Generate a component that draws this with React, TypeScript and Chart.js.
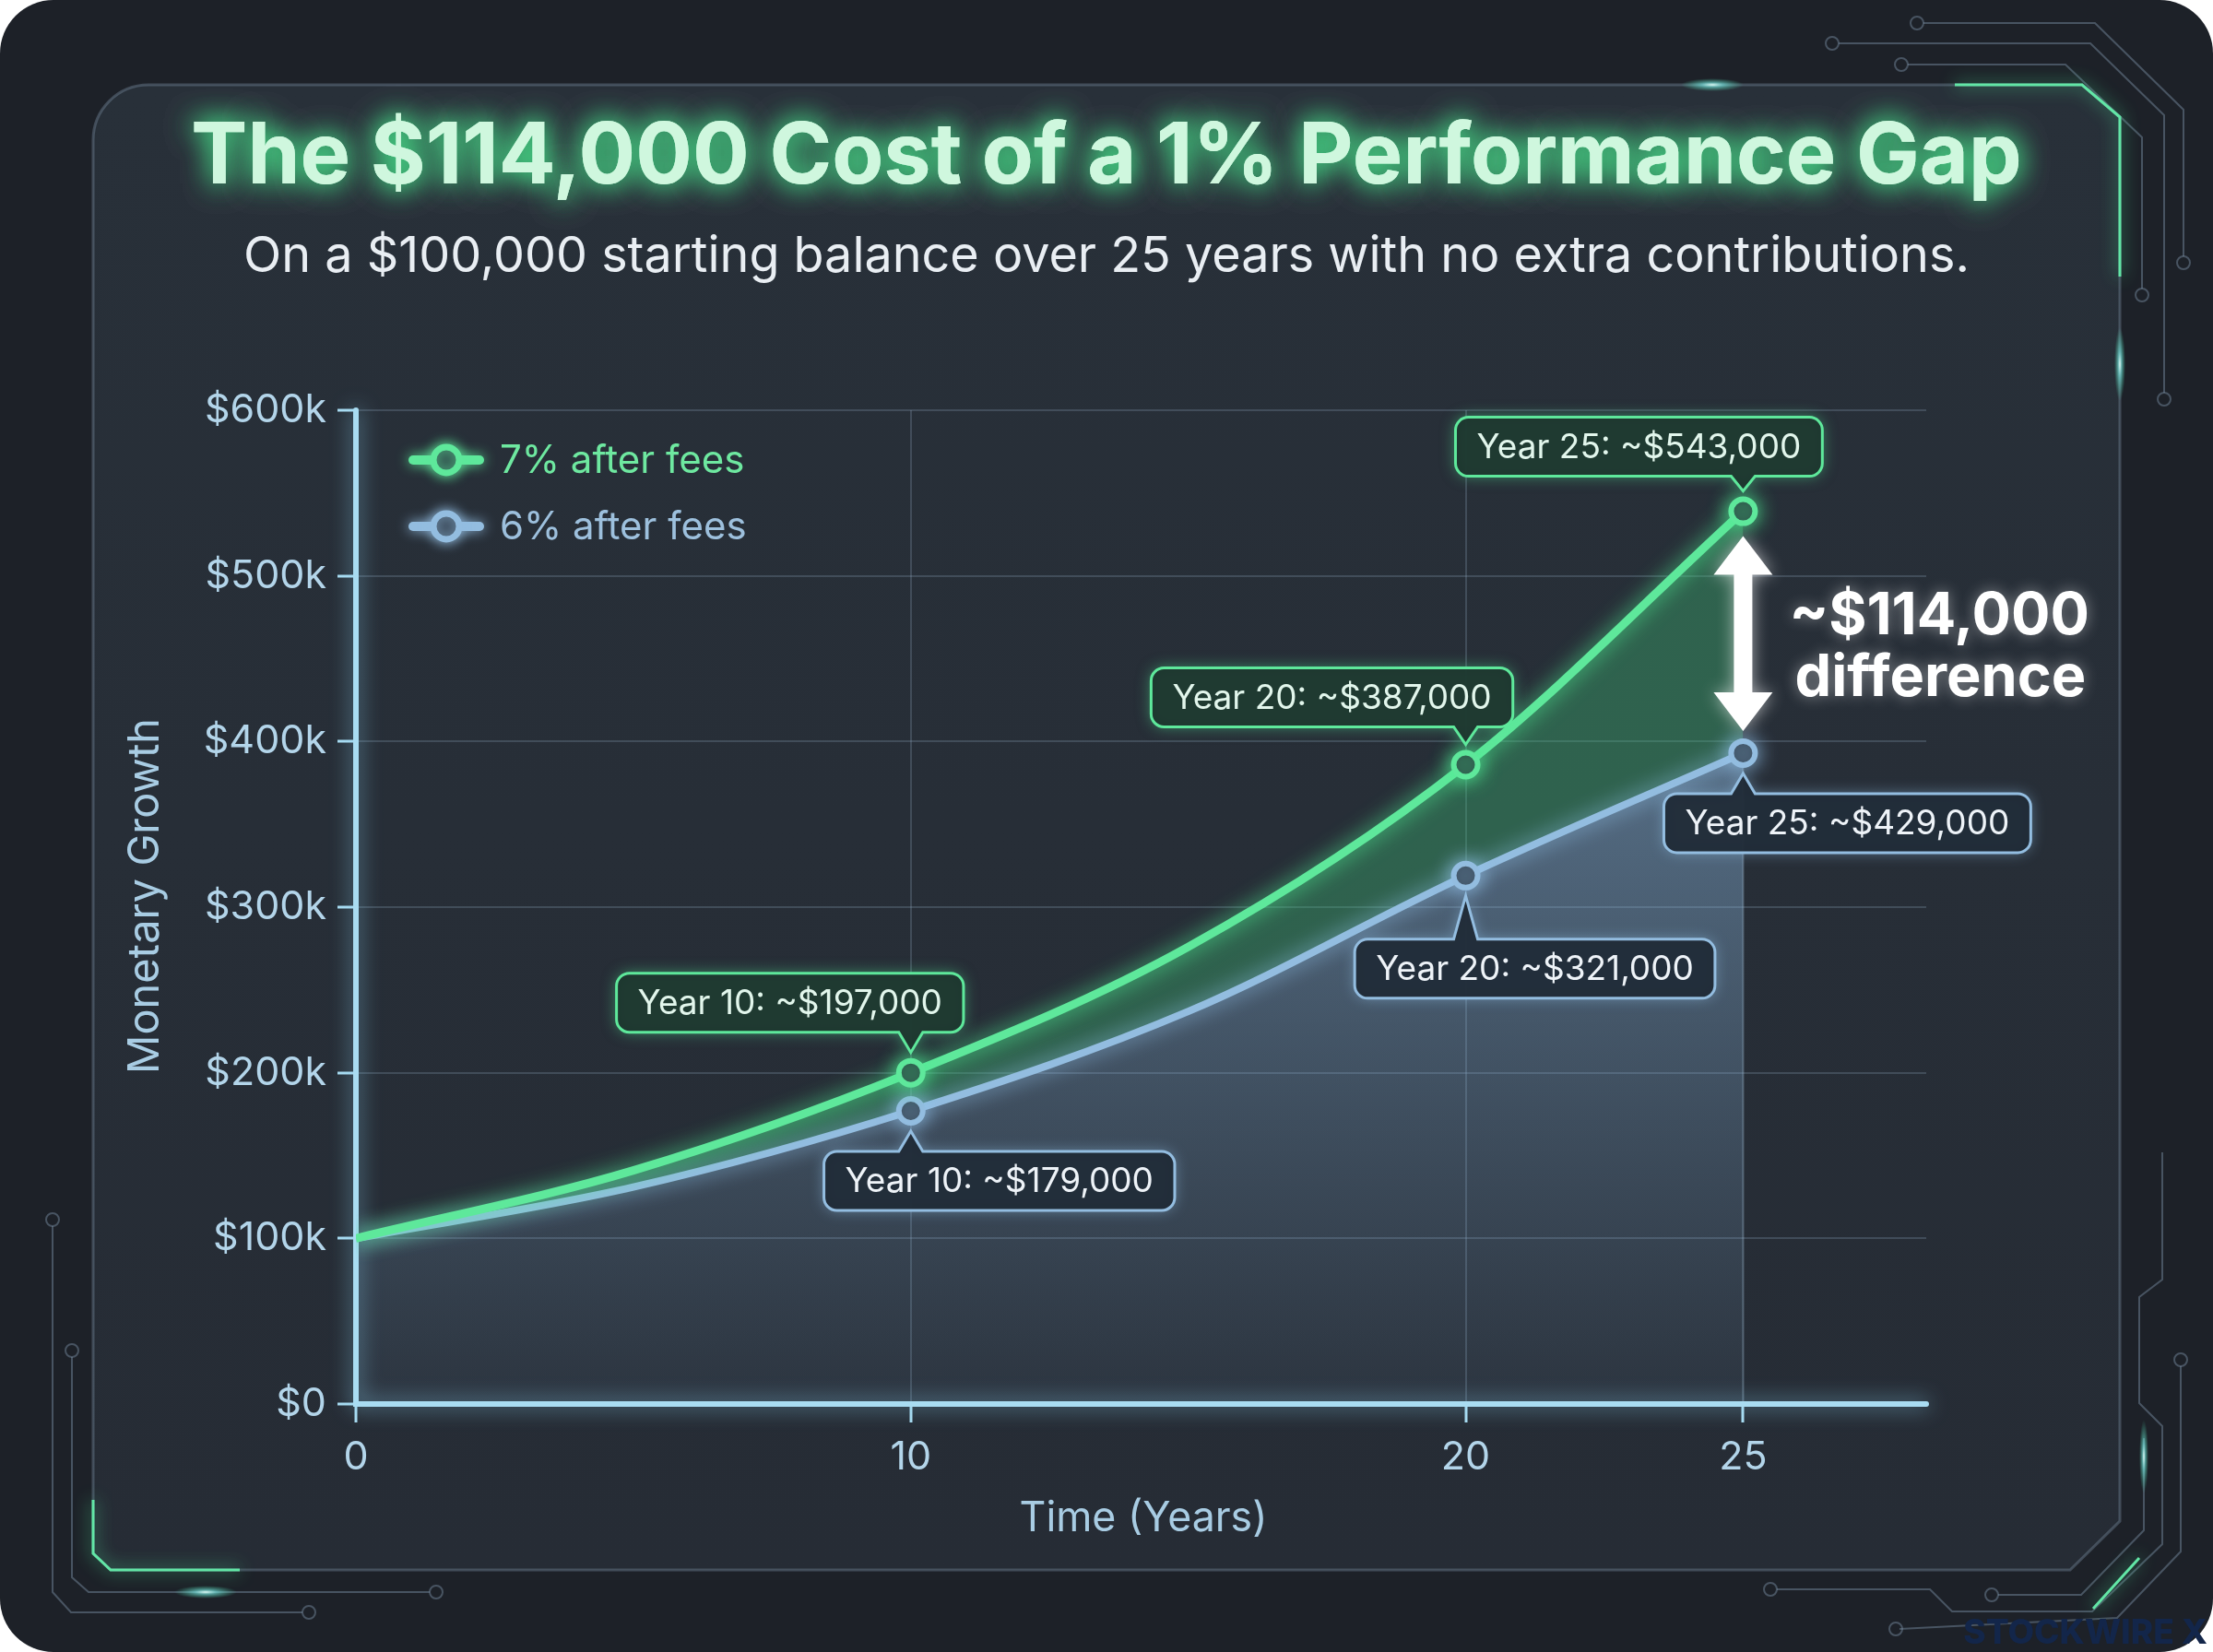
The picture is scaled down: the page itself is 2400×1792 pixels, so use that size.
import { useEffect, useRef } from "react";
import { Chart, registerables, type ChartConfiguration, type Plugin } from "chart.js";

Chart.register(...registerables);

// values in $k
const YEARS = [0, 5, 10, 15, 20, 25];
const SEVEN_PCT = [100, 141, 200, 276, 386, 539];
const SIX_PCT = [100, 131, 177, 237, 319, 393];
const SERIES_NAMES = ["7% after fees", "6% after fees"];
const SEVEN_LABELS = ["", "", "Year 10: ~$197,000", "", "Year 20: ~$387,000", "Year 25: ~$543,000"];
const SIX_LABELS = ["", "", "Year 10: ~$179,000", "", "Year 20: ~$321,000", "Year 25: ~$429,000"];
const X_TICKS = [0, 10, 20, 25];
const Y_TICKS = [0, 100, 200, 300, 400, 500, 600];
const GAP_LINES = ["~$114,000", "difference"];
const TITLE = "The $114,000 Cost of a 1% Performance Gap";
const SUBTITLE = "On a $100,000 starting balance over 25 years with no extra contributions.";
const Y_TITLE = "Monetary Growth";
const X_TITLE = "Time (Years)";
const WATERMARK = "STOCKWIRE X";

const GREEN = "#5ee89b";
const BLUE = "#93bde0";
const AXIS = "#a9dcf2";
const TICK_TEXT = "#b3d5ea";
const GRID = "rgba(150,175,200,0.24)";
const FONT = 'Inter, "Noto Sans", sans-serif';

// callout placement: [box centre dx, box edge dy] relative to the point
const SEVEN_BOX: (number[] | null)[] = [null, null, [-131, -44], null, [-145, -41], [-113, -38]];
const SIX_BOX: (number[] | null)[] = [null, null, [96, 44], null, [75, 69], [113, 44]];

type Ctx = CanvasRenderingContext2D;

function fitText(ctx: Ctx, text: string, width: number, weight: number) {
  ctx.font = `${weight} 100px ${FONT}`;
  const size = (100 * width) / ctx.measureText(text).width;
  ctx.font = `${weight} ${size.toFixed(1)}px ${FONT}`;
  return size;
}

function poly(ctx: Ctx, pts: number[][], circles: number[][]) {
  ctx.beginPath();
  pts.forEach(([x, y], i) => (i ? ctx.lineTo(x, y) : ctx.moveTo(x, y)));
  ctx.stroke();
  circles.forEach(([x, y]) => {
    ctx.beginPath();
    ctx.arc(x, y, 7, 0, Math.PI * 2);
    ctx.stroke();
  });
}

function glowSpot(ctx: Ctx, x: number, y: number, rx: number, ry: number, color: string) {
  ctx.save();
  const g = ctx.createRadialGradient(x, y, 0, x, y, 1);
  g.addColorStop(0, "rgba(230,255,250,0.95)");
  g.addColorStop(0.35, color);
  g.addColorStop(1, "rgba(80,230,180,0)");
  ctx.translate(x, y);
  ctx.scale(rx, ry);
  ctx.translate(-x, -y);
  ctx.fillStyle = g;
  ctx.beginPath();
  ctx.arc(x, y, 1, 0, Math.PI * 2);
  ctx.fill();
  ctx.restore();
}

const backdrop: Plugin<"line"> = {
  id: "backdrop",
  beforeDraw(chart) {
    const ctx = chart.ctx;
    const W = chart.width;
    const H = chart.height;
    ctx.save();
    // outer frame
    ctx.fillStyle = "#1d2128";
    ctx.beginPath();
    ctx.roundRect(0, 0, W, H, 58);
    ctx.fill();

    // inner panel
    const panel = () => {
      ctx.beginPath();
      ctx.moveTo(161, 92);
      ctx.lineTo(2258, 92);
      ctx.lineTo(2299, 127);
      ctx.lineTo(2299, 1650);
      ctx.lineTo(2245, 1703);
      ctx.lineTo(120, 1703);
      ctx.lineTo(101, 1685);
      ctx.lineTo(101, 152);
      ctx.arcTo(101, 92, 161, 92, 60);
      ctx.closePath();
    };
    const pg = ctx.createLinearGradient(0, 92, 0, 1703);
    pg.addColorStop(0, "#283039");
    pg.addColorStop(1, "#262c35");
    ctx.fillStyle = pg;
    panel();
    ctx.fill();
    ctx.strokeStyle = "rgba(120,140,160,0.4)";
    ctx.lineWidth = 3;
    panel();
    ctx.stroke();

    // circuit traces
    ctx.strokeStyle = "rgba(115,135,155,0.5)";
    ctx.lineWidth = 2;
    poly(ctx, [[2086, 25], [2272, 25], [2368, 119], [2368, 278]], [[2079, 25], [2368, 285]]);
    poly(ctx, [[1994, 47], [2267, 47], [2347, 125], [2347, 426]], [[1987, 47], [2347, 433]]);
    poly(ctx, [[2069, 70], [2240, 70], [2323, 149], [2323, 313]], [[2062, 70], [2323, 320]]);
    poly(ctx, [[57, 1330], [57, 1727], [77, 1749], [328, 1749]], [[57, 1323], [335, 1749]]);
    poly(ctx, [[78, 1472], [78, 1711], [96, 1727], [466, 1727]], [[78, 1465], [473, 1727]]);
    poly(ctx, [[1927, 1724], [2093, 1724], [2117, 1748], [2269, 1748], [2345, 1675], [2345, 1547], [2320, 1522], [2320, 1407], [2345, 1388], [2345, 1250]], [[1920, 1724]]);
    poly(ctx, [[2167, 1730], [2257, 1730], [2325, 1660], [2325, 1560]], [[2160, 1730]]);
    poly(ctx, [[2365, 1482], [2365, 1683], [2296, 1755], [2060, 1767]], [[2365, 1475], [2056, 1767]]);

    // green glow edges
    ctx.shadowColor = "rgba(80,240,160,0.9)";
    ctx.shadowBlur = 18;
    ctx.strokeStyle = "#62e6a6";
    ctx.lineWidth = 3;
    ctx.beginPath();
    ctx.moveTo(2120, 92);
    ctx.lineTo(2258, 92);
    ctx.lineTo(2299, 127);
    ctx.lineTo(2299, 300);
    ctx.stroke();
    ctx.beginPath();
    ctx.moveTo(101, 1627);
    ctx.lineTo(101, 1685);
    ctx.lineTo(120, 1703);
    ctx.lineTo(260, 1703);
    ctx.stroke();
    ctx.beginPath();
    ctx.moveTo(2320, 1690);
    ctx.lineTo(2270, 1745);
    ctx.stroke();
    ctx.shadowBlur = 0;
    glowSpot(ctx, 1857, 92, 34, 7, "rgba(120,240,230,0.6)");
    glowSpot(ctx, 2299, 395, 6, 40, "rgba(120,240,230,0.6)");
    glowSpot(ctx, 223, 1727, 34, 7, "rgba(120,240,230,0.6)");
    glowSpot(ctx, 2325, 1580, 5, 40, "rgba(120,240,230,0.6)");

    // title + subtitle
    ctx.textAlign = "center";
    ctx.textBaseline = "middle";
    fitText(ctx, TITLE, 1985, 700);
    ctx.shadowColor = "rgba(70,230,140,0.85)";
    ctx.shadowBlur = 30;
    ctx.fillStyle = "#cff7de";
    ctx.fillText(TITLE, 1200, 171);
    ctx.fillText(TITLE, 1200, 171);
    ctx.shadowBlur = 0;
    fitText(ctx, SUBTITLE, 1873, 400);
    ctx.fillStyle = "#e9eef3";
    ctx.fillText(SUBTITLE, 1200, 279);
    ctx.restore();
  },
};

const glow: Plugin<"line"> = {
  id: "glow",
  beforeDatasetsDraw(chart) {
    const { ctx, chartArea: a } = chart;
    ctx.save();
    ctx.strokeStyle = AXIS;
    ctx.lineWidth = 6;
    ctx.lineCap = "round";
    ctx.shadowColor = "rgba(140,210,240,0.8)";
    ctx.shadowBlur = 22;
    ctx.beginPath();
    ctx.moveTo(a.left, a.top);
    ctx.lineTo(a.left, a.bottom);
    ctx.lineTo(a.right, a.bottom);
    ctx.stroke();
    ctx.restore();
  },
  beforeDatasetDraw(chart, args) {
    const ctx = chart.ctx;
    ctx.save();
    ctx.shadowColor = args.index === 0 ? "rgba(80,240,150,0.9)" : "rgba(150,200,240,0.85)";
    ctx.shadowBlur = 22;
  },
  afterDatasetDraw(chart) {
    chart.ctx.restore();
  },
};

function callout(ctx: Ctx, text: string, px: number, py: number, dx: number, dy: number, stroke: string, fill: string, color: string, shadow: string) {
  ctx.font = `400 37px ${FONT}`;
  const w = ctx.measureText(text).width + 46;
  const h = 64;
  const above = dy < 0;
  const left = px + dx - w / 2;
  const top = above ? py + dy - h : py + dy;
  const bottom = top + h;
  const r = 14;
  const hw = 13;
  const tipY = above ? py - 22 : py + 22;
  ctx.beginPath();
  ctx.moveTo(left + r, top);
  if (!above) {
    ctx.lineTo(px - hw, top);
    ctx.lineTo(px, tipY);
    ctx.lineTo(px + hw, top);
  }
  ctx.lineTo(left + w - r, top);
  ctx.arcTo(left + w, top, left + w, top + r, r);
  ctx.lineTo(left + w, bottom - r);
  ctx.arcTo(left + w, bottom, left + w - r, bottom, r);
  if (above) {
    ctx.lineTo(px + hw, bottom);
    ctx.lineTo(px, tipY);
    ctx.lineTo(px - hw, bottom);
  }
  ctx.lineTo(left + r, bottom);
  ctx.arcTo(left, bottom, left, bottom - r, r);
  ctx.lineTo(left, top + r);
  ctx.arcTo(left, top, left + r, top, r);
  ctx.closePath();
  ctx.save();
  ctx.shadowColor = shadow;
  ctx.shadowBlur = 16;
  ctx.fillStyle = fill;
  ctx.fill();
  ctx.restore();
  ctx.strokeStyle = stroke;
  ctx.lineWidth = 3;
  ctx.stroke();
  ctx.fillStyle = color;
  ctx.textAlign = "center";
  ctx.textBaseline = "middle";
  ctx.fillText(text, left + w / 2, top + h / 2 + 1);
}

const overlay: Plugin<"line"> = {
  id: "overlay",
  afterDatasetsDraw(chart) {
    const { ctx, chartArea: a } = chart;
    const g = chart.getDatasetMeta(0).data;
    const b = chart.getDatasetMeta(1).data;
    ctx.save();

    // callouts
    SEVEN_LABELS.forEach((t, i) => {
      const o = SEVEN_BOX[i];
      if (!t || !o) return;
      callout(ctx, t, g[i].x, g[i].y, o[0], o[1], GREEN, "rgba(30,54,46,0.95)", "#e2f6ec", "rgba(80,230,150,0.55)");
    });
    SIX_LABELS.forEach((t, i) => {
      const o = SIX_BOX[i];
      if (!t || !o) return;
      callout(ctx, t, b[i].x, b[i].y, o[0], o[1], BLUE, "rgba(31,41,53,0.95)", "#eef3f8", "rgba(150,200,240,0.5)");
    });

    // double arrow between year-25 points
    const last = YEARS.length - 1;
    const ax = g[last].x;
    const y1 = g[last].y + 27;
    const y2 = b[last].y - 24;
    const hl = 42;
    const hw = 32;
    const sw = 10;
    ctx.save();
    ctx.shadowColor = "rgba(255,255,255,0.6)";
    ctx.shadowBlur = 18;
    ctx.fillStyle = "#ffffff";
    ctx.beginPath();
    ctx.moveTo(ax, y1);
    ctx.lineTo(ax + hw, y1 + hl);
    ctx.lineTo(ax + sw, y1 + hl);
    ctx.lineTo(ax + sw, y2 - hl);
    ctx.lineTo(ax + hw, y2 - hl);
    ctx.lineTo(ax, y2);
    ctx.lineTo(ax - hw, y2 - hl);
    ctx.lineTo(ax - sw, y2 - hl);
    ctx.lineTo(ax - sw, y1 + hl);
    ctx.lineTo(ax - hw, y1 + hl);
    ctx.closePath();
    ctx.fill();

    ctx.font = `700 63px ${FONT}`;
    ctx.textAlign = "left";
    ctx.textBaseline = "middle";
    ctx.shadowColor = "rgba(255,255,255,0.45)";
    ctx.shadowBlur = 16;
    ctx.fillText(GAP_LINES[0], ax + 50, g[last].y + 114);
    ctx.fillText(GAP_LINES[1], ax + 56, g[last].y + 181);
    ctx.restore();

    // legend
    const colors = [GREEN, BLUE];
    const textColors = ["#6ee8a0", "#9dc0dd"];
    SERIES_NAMES.forEach((name, i) => {
      const cx = a.left + 98;
      const cy = a.top + 54 + i * 72;
      ctx.save();
      ctx.shadowColor = colors[i];
      ctx.shadowBlur = 14;
      ctx.strokeStyle = colors[i];
      ctx.lineCap = "round";
      ctx.lineWidth = 10;
      ctx.beginPath();
      ctx.moveTo(cx - 36, cy);
      ctx.lineTo(cx + 36, cy);
      ctx.stroke();
      ctx.fillStyle = "#2a3440";
      ctx.lineWidth = 7;
      ctx.beginPath();
      ctx.arc(cx, cy, 14, 0, Math.PI * 2);
      ctx.fill();
      ctx.stroke();
      ctx.restore();
      ctx.font = `400 42px ${FONT}`;
      ctx.fillStyle = textColors[i];
      ctx.textAlign = "left";
      ctx.textBaseline = "middle";
      ctx.fillText(name, cx + 58, cy + 1);
    });

    // axis titles
    ctx.fillStyle = "#a8cce3";
    ctx.textAlign = "center";
    ctx.textBaseline = "middle";
    ctx.save();
    ctx.translate(158, 972);
    ctx.rotate(-Math.PI / 2);
    fitText(ctx, Y_TITLE, 386, 400);
    ctx.fillText(Y_TITLE, 0, 0);
    ctx.restore();
    fitText(ctx, X_TITLE, 269, 400);
    ctx.fillText(X_TITLE, 1240, 1648);

    // watermark
    ctx.font = `800 37px ${FONT}`;
    ctx.fillStyle = "#13264a";
    ctx.textAlign = "right";
    ctx.fillText(WATERMARK, 2394, 1772);
    ctx.restore();
  },
};

const edge25: Plugin<"line"> = {
  id: "edge25",
  beforeDatasetsDraw(chart) {
    const { ctx, chartArea: a } = chart;
    const b = chart.getDatasetMeta(1).data;
    const p = b[b.length - 1];
    ctx.save();
    ctx.strokeStyle = "rgba(170,200,225,0.35)";
    ctx.lineWidth = 2;
    ctx.beginPath();
    ctx.moveTo(p.x, p.y);
    ctx.lineTo(p.x, a.bottom);
    ctx.stroke();
    ctx.restore();
  },
};

export default function App() {
  const canvasRef = useRef<HTMLCanvasElement>(null);

  useEffect(() => {
    if (!canvasRef.current) return;
    const markers = YEARS.map((_, i) => (SEVEN_LABELS[i] ? 13 : 0));

    const config: ChartConfiguration<"line"> = {
      type: "line",
      data: {
        datasets: [
          {
            label: SERIES_NAMES[0],
            data: YEARS.map((x, i) => ({ x, y: SEVEN_PCT[i] })),
            borderColor: GREEN,
            borderWidth: 9,
            backgroundColor: "rgba(64,190,118,0.36)",
            fill: "+1",
            cubicInterpolationMode: "monotone",
            pointRadius: markers,
            pointBorderWidth: 6,
            pointBorderColor: GREEN,
            pointBackgroundColor: "#27343a",
          },
          {
            label: SERIES_NAMES[1],
            data: YEARS.map((x, i) => ({ x, y: SIX_PCT[i] })),
            borderColor: BLUE,
            borderWidth: 8,
            backgroundColor: (c) => {
              const area = c.chart.chartArea;
              if (!area) return "rgba(140,185,225,0.3)";
              const gr = c.chart.ctx.createLinearGradient(0, area.top + 250, 0, area.bottom);
              gr.addColorStop(0, "rgba(140,185,225,0.52)");
              gr.addColorStop(1, "rgba(140,185,225,0.06)");
              return gr;
            },
            fill: "origin",
            cubicInterpolationMode: "monotone",
            pointRadius: markers,
            pointBorderWidth: 6,
            pointBorderColor: BLUE,
            pointBackgroundColor: "#2b3744",
          },
        ],
      },
      options: {
        responsive: false,
        animation: false,
        devicePixelRatio: 1,
        layout: { padding: { left: 0, top: 445, right: 311, bottom: 0 } },
        plugins: {
          legend: { display: false },
          tooltip: { enabled: false },
          filler: { drawTime: "beforeDatasetsDraw" },
        },
        scales: {
          x: {
            type: "linear",
            min: 0,
            max: 28.3,
            afterBuildTicks: (s) => {
              s.ticks = X_TICKS.map((value) => ({ value }));
            },
            afterFit: (s) => {
              s.height = 269;
            },
            border: { display: false },
            grid: {
              color: (c) => (c.tick && (c.tick.value === 10 || c.tick.value === 20) ? GRID : "rgba(0,0,0,0)"),
              lineWidth: 2,
              tickColor: AXIS,
              tickLength: 20,
              tickWidth: 3,
            },
            ticks: {
              color: TICK_TEXT,
              font: { family: FONT, size: 43 },
              padding: 12,
              maxRotation: 0,
              autoSkip: false,
            },
          },
          y: {
            min: 0,
            max: 600,
            afterBuildTicks: (s) => {
              s.ticks = Y_TICKS.map((value) => ({ value }));
            },
            afterFit: (s) => {
              s.width = 386;
            },
            border: { display: false },
            grid: {
              color: GRID,
              lineWidth: 2,
              tickColor: AXIS,
              tickLength: 20,
              tickWidth: 3,
            },
            ticks: {
              color: TICK_TEXT,
              font: { family: FONT, size: 43 },
              padding: 12,
              callback: (v) => (Number(v) === 0 ? "$0" : `$${v}k`),
            },
          },
        },
      },
      plugins: [backdrop, edge25, glow, overlay],
    };

    const chart = new Chart(canvasRef.current, config);
    return () => chart.destroy();
  }, []);

  return (
    <div style={{ position: "absolute", left: 0, top: 0, width: 2400, height: 1792 }}>
      <canvas
        ref={canvasRef}
        width={2400}
        height={1792}
        style={{ width: 2400, height: 1792, display: "block" }}
        role="img"
        aria-label="The $114,000 cost of a 1% performance gap"
      />
    </div>
  );
}
